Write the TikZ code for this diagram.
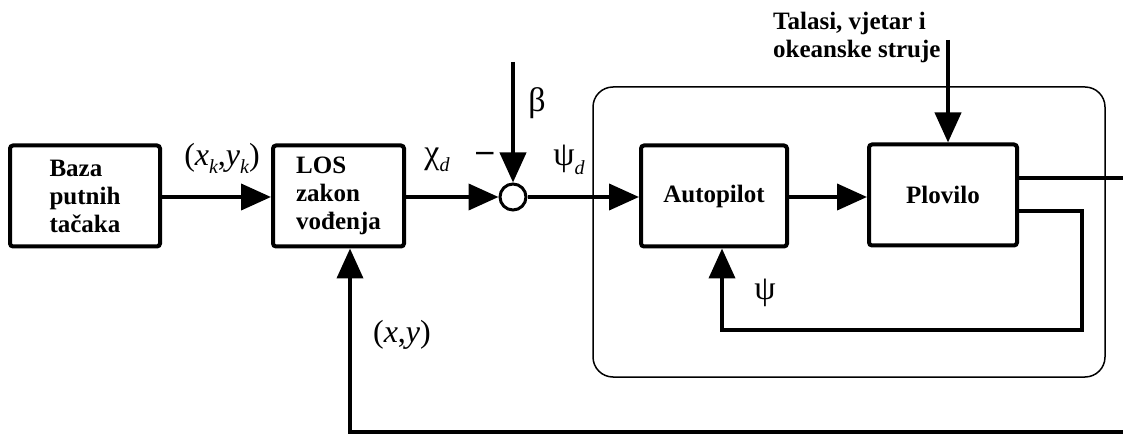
\documentclass[tikz,border=0pt]{standalone}
\usepackage{fontspec}
\setmainfont{Liberation Serif}
\usetikzlibrary{arrows.meta}
\newcommand\mysub[1]{\raisebox{-0.25em}{\fontsize{20}{20}\selectfont\itshape #1}}
\begin{document}
\begin{tikzpicture}[x=1pt,y=-1pt,
  blk/.style={draw, line width=4pt, rounded corners=3pt, minimum height=101pt, inner sep=0pt,
    align=left, font=\bfseries\fontsize{25}{28}\selectfont},
  sig/.style={line width=4pt, -{Triangle[length=30pt,width=26pt]}},
  wire/.style={line width=4pt},
  lbl/.style={font=\bfseries\fontsize{25}{28}\selectfont, align=left, inner sep=0pt},
  mth/.style={font=\fontsize{32}{36}\selectfont, inner sep=0pt},
  gr/.style={font=\fontsize{34}{38}\selectfont, inner sep=0pt}]
\clip (0,0) rectangle (1123,435);
\fill[white] (0,0) rectangle (1123,435);

% outer rounded frame
\draw[line width=1.5pt, rounded corners=20pt] (593,87) rectangle (1105,377);

\node[blk, minimum width=150pt] (baza) at (85,196) {Baza\\putnih\\tačaka};
\node[blk, minimum width=131pt] (los) at (338.5,196) {LOS\\zakon\\vođenja};
\node[draw, circle, line width=3pt, minimum size=26pt, inner sep=0pt] (sum) at (513,197) {};
\node[blk, minimum width=146pt] (auto) at (714,196) {Autopilot};
\node[blk, minimum width=148pt] (plov) at (943,195) {Plovilo};

\coordinate (btop) at (513,62);
\coordinate (dtop) at (948,40);
\coordinate (fb1) at (1082,211);
\coordinate (fb2) at (1082,330);
\coordinate (fb3) at (722,330);
\coordinate (out1) at (1135,178);
\coordinate (out2) at (1135,432);
\coordinate (out3) at (350,432);

\draw[sig] (baza.east |- 0,197) -- (los.west |- 0,197);
\draw[sig] (los.east |- 0,197) -- (sum.west);
\draw[wire] (sum.east) -- (593,197);
\draw[sig] (593,197) -- (auto.west |- 0,197);
\draw[sig] (auto.east |- 0,197) -- (plov.west |- 0,197);
\draw[sig] (btop) -- (sum.north);
\draw[sig] (dtop) -- (dtop |- plov.north);
\draw[sig, line join=miter] (plov.east |- fb1) -- (fb1) -- (fb2) -- (fb3) -- (fb3 |- auto.south);
\draw[sig, line join=miter] (plov.east |- out1) -- (out1) -- (out2) -- (out3) -- (out3 |- los.south);

% labels
\node[lbl, anchor=base west] (tal) at (773,30) {Talasi, vjetar i};
\node[lbl, anchor=base west] (oke) at (773,58) {okeanske struje};
\node[mth] (xk) at (222,158) {(\textit{x}\mysub{k},\textit{y}\mysub{k})};
\node[gr] (chi) at (437,160) {χ\mysub{d}};
\node[gr] (minus) at (485,157) {\textbf{–}};
\node[gr] (beta) at (537,103) {β};
\node[gr] (psid) at (569,160) {ψ\mysub{d}};
\node[gr] (psi) at (765,293) {ψ};
\node[mth] (xy) at (402,335) {(\textit{x},\textit{y})};
\end{tikzpicture}
\end{document}
